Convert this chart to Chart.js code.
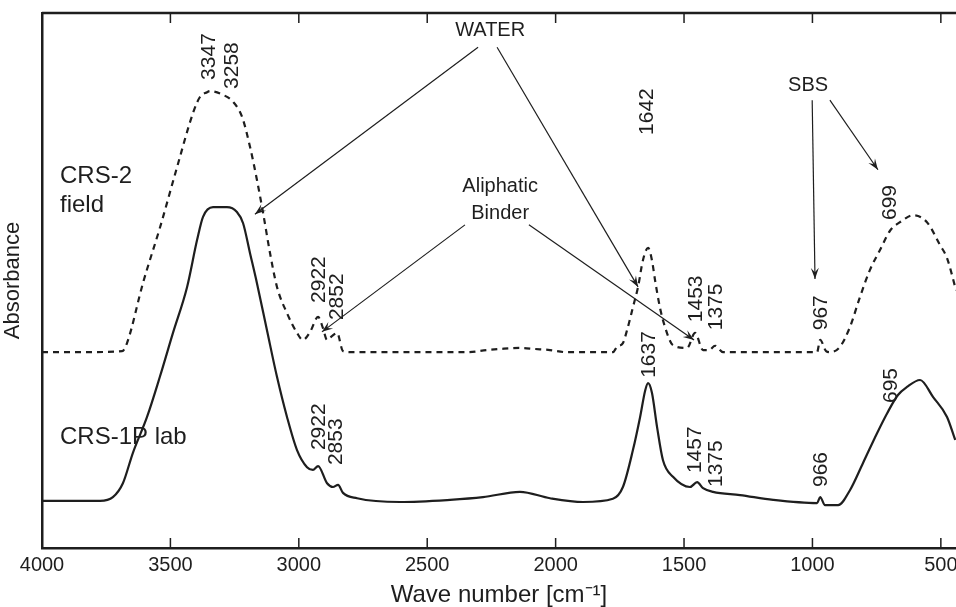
<!DOCTYPE html>
<html>
<head>
<meta charset="utf-8">
<script src="https://cdn.jsdelivr.net/npm/chart.js@4.4.1/dist/chart.umd.min.js"></script>
<style>
  html, body { margin: 0; padding: 0; background: #fff; }
  #wrap { width: 956px; height: 607px; position: relative; }
</style>
</head>
<body>
<div id="wrap"><canvas id="ftir"></canvas></div>
<script>
// CRS-2 field (dashed) spectrum
var fieldWn = [4000,3852,3688,3669,3607,3540,3474,3412,3385,3357,3346,3295,3256,3221,3190,3163,3139,3112,3085,3046,3007,2984,2956,2925,2906,2890,2871,2851,2828,2801,2345,2267,2217,2139,2080,2022,1956,1777,1761,1738,1722,1699,1679,1660,1640,1625,1613,1594,1574,1543,1488,1457,1426,1403,1379,1348,982,970,947,931,893,854,815,776,737,698,659,608,554,503,476,441];
var fieldAbs = [36.6,36.6,36.8,38.3,49.5,60.0,71.2,81.3,84.3,85.2,85.4,84.7,83.4,80.6,75.0,68.8,62.6,55.1,48.8,43.9,40.2,38.9,40.4,43.2,41.1,38.9,39.6,40.2,36.8,36.6,36.6,37.0,37.2,37.4,37.2,37.0,36.6,36.6,37.6,38.3,40.7,45.0,48.8,53.8,56.1,53.8,50.1,45.0,41.3,37.9,37.4,40.2,37.0,37.0,37.8,36.6,36.6,38.9,36.8,36.6,37.6,41.3,46.9,52.0,55.7,59.3,60.9,62.2,60.9,56.6,54.2,48.2];

// CRS-1P lab (solid) spectrum
var labWn = [4000,3774,3724,3685,3646,3591,3541,3490,3435,3396,3373,3334,3280,3241,3217,3190,3163,3124,3085,3046,3007,2968,2945,2925,2890,2867,2847,2828,2773,2606,2411,2283,2139,2022,1893,1777,1738,1699,1671,1651,1640,1625,1605,1582,1543,1477,1449,1426,1387,1282,1153,982,970,951,900,854,803,748,709,667,632,581,530,476,444];
var labAbs = [8.8,8.8,9.5,12.1,17.8,24.5,32.0,40.2,48.8,57.6,61.9,63.7,63.7,62.8,60.7,55.1,49.5,40.7,32.0,24.5,18.3,15.1,14.6,15.3,12.1,11.4,11.8,10.3,9.3,8.6,9.0,9.5,10.5,9.3,8.6,9.2,11.4,18.3,24.5,29.5,30.8,29.0,22.6,16.4,13.3,11.4,12.3,11.2,10.5,9.9,9.0,8.4,9.5,8.0,8.0,10.8,15.9,21.5,25.2,28.6,30.1,31.4,28.2,24.5,20.2];

var tickValues = [4000,3500,3000,2500,2000,1500,1000,500];

// peak numbers: text, wavenumber, absorbance where the (rotated) text starts
var peakText = ["3347","3258","2922","2852","1642","1453","1375","967","699","2922","2853","1637","1457","1375","966","695"];
var peakWn   = [3347,3258,2922,2852,1642,1453,1375,967,699,2922,2853,1637,1457,1375,966,695];
var peakAt   = [87.5,85.8,45.8,42.6,77.2,42.2,40.7,40.7,61.3,18.3,15.5,31.8,14.0,11.4,11.4,27.1];

// callouts
var notes = [
  {t: "WATER", wn: 2255, a: 96.8},
  {t: "Aliphatic", wn: 2216, a: 67.5},
  {t: "Binder", wn: 2216, a: 62.6},
  {t: "SBS", wn: 1017, a: 86.5}
];
var seriesNames = [
  {t: "CRS-2", wn: 3930, a: 69.5},
  {t: "field", wn: 3930, a: 64.1},
  {t: "CRS-1P lab", wn: 3930, a: 20.7}
];
var arrows = [
  [2302, 93.6, 3171, 62.4],
  [2228, 93.6, 1679, 48.8],
  [2353, 60.4, 2910, 40.4],
  [2104, 60.4, 1461, 38.9],
  [1001, 83.7, 990, 50.3],
  [932, 83.7, 745, 70.7]
];

function pts(xs, ys) {
  return xs.map(function (x, i) { return {x: x, y: ys[i]}; });
}

var ink = "#1e1e1e";
var font = "'Liberation Sans', Arial, sans-serif";

var extras = {
  id: "extras",
  afterDraw: function (chart) {
    var ctx = chart.ctx, xs = chart.scales.x, ys = chart.scales.y, area = chart.chartArea;
    ctx.save();
    ctx.strokeStyle = ink;
    ctx.fillStyle = ink;

    // top frame line
    ctx.lineWidth = 2.5;
    ctx.beginPath();
    ctx.moveTo(area.left, area.top);
    ctx.lineTo(area.right, area.top);
    ctx.stroke();

    // inward ticks top and bottom
    ctx.lineWidth = 1.5;
    tickValues.forEach(function (v) {
      var px = xs.getPixelForValue(v);
      if (px < area.left + 2 || px > area.right) return;
      ctx.beginPath();
      ctx.moveTo(px, area.bottom); ctx.lineTo(px, area.bottom - 10);
      ctx.moveTo(px, area.top); ctx.lineTo(px, area.top + 10);
      ctx.stroke();
    });

    // arrows
    ctx.lineWidth = 1.2;
    arrows.forEach(function (r) {
      var x1 = xs.getPixelForValue(r[0]), y1 = ys.getPixelForValue(r[1]);
      var x2 = xs.getPixelForValue(r[2]), y2 = ys.getPixelForValue(r[3]);
      ctx.beginPath();
      ctx.moveTo(x1, y1); ctx.lineTo(x2, y2);
      ctx.stroke();
      var ang = Math.atan2(y2 - y1, x2 - x1), L = 11, W = 4;
      ctx.beginPath();
      ctx.moveTo(x2, y2);
      ctx.lineTo(x2 - L * Math.cos(ang) + W * Math.sin(ang), y2 - L * Math.sin(ang) - W * Math.cos(ang));
      ctx.lineTo(x2 - 0.6 * L * Math.cos(ang), y2 - 0.6 * L * Math.sin(ang));
      ctx.lineTo(x2 - L * Math.cos(ang) - W * Math.sin(ang), y2 - L * Math.sin(ang) + W * Math.cos(ang));
      ctx.closePath();
      ctx.fill();
    });

    // callout words
    ctx.font = "20px " + font;
    ctx.textBaseline = "middle";
    ctx.textAlign = "center";
    notes.forEach(function (n) {
      ctx.fillText(n.t, xs.getPixelForValue(n.wn), ys.getPixelForValue(n.a));
    });

    ctx.font = "24px " + font;
    ctx.textAlign = "left";
    seriesNames.forEach(function (n) {
      ctx.fillText(n.t, xs.getPixelForValue(n.wn), ys.getPixelForValue(n.a));
    });

    // rotated peak numbers
    ctx.font = "21px " + font;
    peakText.forEach(function (t, i) {
      ctx.save();
      ctx.translate(xs.getPixelForValue(peakWn[i]), ys.getPixelForValue(peakAt[i]));
      ctx.rotate(-Math.PI / 2);
      ctx.textAlign = "left";
      ctx.textBaseline = "middle";
      ctx.fillText(t, 0, 0);
      ctx.restore();
    });
    ctx.restore();
  }
};

new Chart("ftir", {
  type: "line",
  data: {
    datasets: [{
      label: "CRS-2 field",
      data: pts(fieldWn, fieldAbs),
      borderColor: ink,
      borderWidth: 2.2,
      borderDash: [6, 5],
      pointRadius: 0,
      cubicInterpolationMode: "monotone",
      fill: false
    }, {
      label: "CRS-1P lab",
      data: pts(labWn, labAbs),
      borderColor: ink,
      borderWidth: 2.2,
      pointRadius: 0,
      cubicInterpolationMode: "monotone",
      fill: false
    }]
  },
  options: {
    responsive: true,
    maintainAspectRatio: false,
    animation: false,
    events: [],
    layout: { padding: { top: 13, right: 0, left: 0, bottom: 0 } },
    plugins: { legend: { display: false }, tooltip: { enabled: false } },
    scales: {
      x: {
        type: "linear",
        reverse: true,
        min: 441,
        max: 4000,
        afterBuildTicks: function (s) { s.ticks = tickValues.map(function (v) { return {value: v}; }); },
        afterFit: function (s) { s.height = 59; s.paddingLeft = 0; s.paddingRight = 0; },
        grid: { display: false },
        border: { color: ink, width: 2.5 },
        ticks: {
          color: ink,
          font: { size: 20, family: font },
          padding: -3,
          maxRotation: 0,
          autoSkip: false,
          callback: function (v) { return String(v); }
        },
        title: {
          display: true,
          text: "Wave number [cm\u207B\u00B9]",
          color: ink,
          font: { size: 24, family: font, lineHeight: 1 },
          padding: { top: 0, bottom: 0 }
        }
      },
      y: {
        min: 0,
        max: 100,
        afterFit: function (s) { s.width = 42; },
        grid: { display: false },
        border: { color: ink, width: 2.5 },
        ticks: { display: false },
        title: { display: true, text: "Absorbance", color: ink, font: { size: 22, family: font }, padding: { top: 0, bottom: 4 } }
      }
    }
  },
  plugins: [extras]
});
</script>
</body>
</html>
